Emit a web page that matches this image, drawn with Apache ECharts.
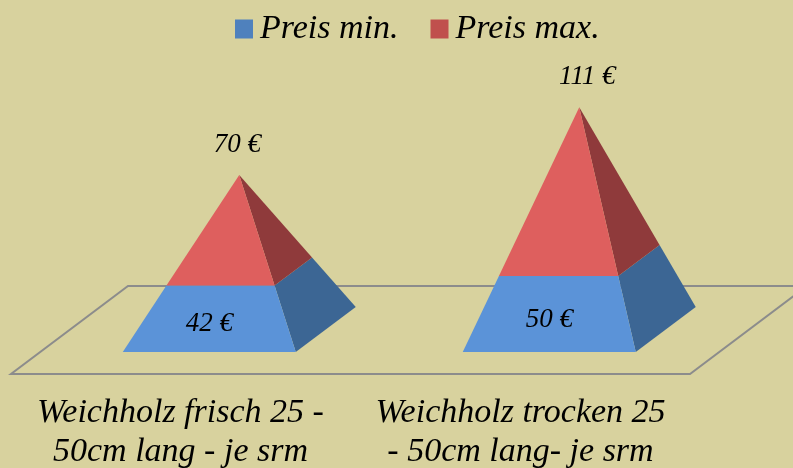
<!DOCTYPE html>
<html><head><meta charset="utf-8">
<style>html,body{margin:0;padding:0;background:#d8d29e}#c{width:793px;height:468px}</style>
<script src="https://cdn.jsdelivr.net/npm/echarts@6/dist/echarts.min.js"></script>
</head><body><div id="c"></div>
<script>
const categories = ['Weichholz frisch 25 -\n50cm lang - je srm', 'Weichholz trocken 25\n- 50cm lang- je srm'];
const preisMin = [42, 50];
const preisMax = [70, 111];
const legendNames = ['Preis min.', 'Preis max.'];

const FONT = '"Liberation Serif"';
const HALF_W = 86.5, FRONT = [28.75, -22], DEPTH = [60, -45];
const topLabelNudge = [-2, 8];

function pyramidItem(segment, params, api) {
  const i = api.value(0);
  const total = preisMin[i] + preisMax[i];
  const from = segment === 0 ? 0 : preisMin[i] / total;
  const to = segment === 0 ? preisMin[i] / total : 1;
  const zero = api.coord([i, 0]);
  const top = api.coord([i, total]);
  const fx = zero[0] + FRONT[0], fy = zero[1] + FRONT[1];
  const apex = [fx + DEPTH[0] / 2, top[1] + FRONT[1] + DEPTH[1] / 2];
  const at = (p, t) => [p[0] + (apex[0] - p[0]) * t, p[1] + (apex[1] - p[1]) * t];
  const fl = [fx - HALF_W, fy], fr = [fx + HALF_W, fy], br = [fx + HALF_W + DEPTH[0], fy + DEPTH[1]];
  const colors = segment === 0 ? ['#5b93d8', '#3c6694'] : ['#de5f5e', '#8f3a3b'];
  const children = [
    { type: 'polygon', shape: { points: [at(fr, from), at(br, from), at(br, to), at(fr, to)] }, style: { fill: colors[1] } },
    { type: 'polygon', shape: { points: [at(fl, from), at(fr, from), at(fr, to), at(fl, to)] }, style: { fill: colors[0] } }
  ];
  const value = api.value(1);
  const lx = segment === 0 ? fx : apex[0] + topLabelNudge[i];
  const ly = segment === 0 ? (at(fl, from)[1] + at(fl, to)[1]) / 2 + 5.5 : apex[1] - 30;
  children.push({ type: 'text', z2: 10, style: { x: lx, y: ly, text: value + ' €', fill: '#000', font: 'italic 27px ' + FONT, align: 'center', verticalAlign: 'middle' } });
  return { type: 'group', children };
}

function floorItem(params, api) {
  const g = params.coordSys;
  const x0 = g.x + 0.5, x1 = g.x + g.width - 0.5, y = g.y + g.height;
  const dx = 117, dy = -88;
  return { type: 'polygon', shape: { points: [[x0, y], [x1, y], [x1 + dx, y + dy], [x0 + dx, y + dy]] },
    style: { fill: 'none', stroke: '#8c8c8c', lineWidth: 2 } };
}

const chart = echarts.init(document.getElementById('c'), null, { renderer: 'canvas' });
chart.setOption({
  animation: false,
  backgroundColor: '#d8d29e',
  legend: {
    data: legendNames, top: 7, left: 230, itemWidth: 18, itemHeight: 19, itemGap: 32,
    icon: 'rect', textStyle: { fontFamily: FONT, fontStyle: 'italic', fontSize: 34, color: '#000', padding: [0, 0, 0, 2] }
  },
  grid: { left: 10.5, right: 102.5, top: 98, bottom: 94, outerBoundsMode: 'none' },
  xAxis: { type: 'category', data: categories, axisLine: { show: false }, axisTick: { show: false },
    axisLabel: { interval: 0, margin: 20, fontFamily: FONT, fontStyle: 'italic', fontSize: 34, lineHeight: 39, color: '#000' } },
  yAxis: { type: 'value', min: 0, max: 200, show: false, splitLine: { show: false } },
  series: [
    { type: 'custom', name: 'floor', silent: true, z: 1, clip: false, renderItem: floorItem, data: [[0, 0]], encode: { x: 0, y: 1 } },
    { type: 'custom', name: legendNames[0], z: 2, clip: false, itemStyle: { color: '#4f81bd' }, renderItem: (p, a) => pyramidItem(0, p, a),
      data: preisMin.map((v, i) => [i, v]), encode: { x: 0, y: 1 } },
    { type: 'custom', name: legendNames[1], z: 3, clip: false, itemStyle: { color: '#c0504d' }, renderItem: (p, a) => pyramidItem(1, p, a),
      data: preisMax.map((v, i) => [i, v]), encode: { x: 0, y: 1 } }
  ]
});
</script></body></html>
